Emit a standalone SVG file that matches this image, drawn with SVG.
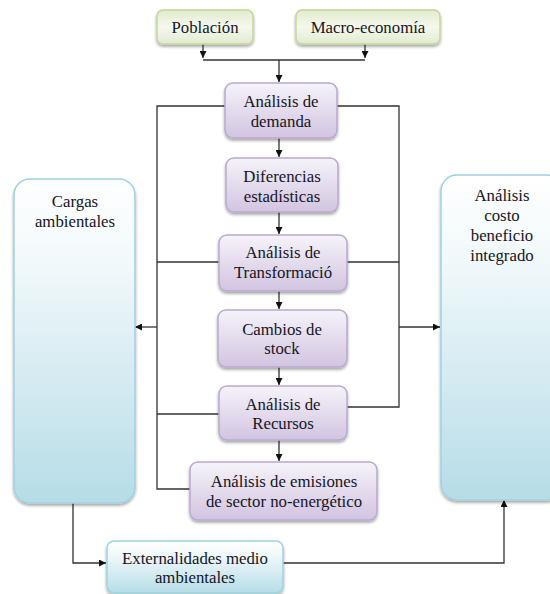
<svg xmlns="http://www.w3.org/2000/svg" width="550" height="594" viewBox="0 0 550 594">
  <defs>
    <linearGradient id="gGreen" x1="0" y1="0" x2="0" y2="1">
      <stop offset="0" stop-color="#e2ebcd"/>
      <stop offset="0.5" stop-color="#f5f8ee"/>
      <stop offset="1" stop-color="#e1ebcf"/>
    </linearGradient>
    <linearGradient id="gPurple" x1="0" y1="0" x2="0" y2="1">
      <stop offset="0" stop-color="#f6f3f9"/>
      <stop offset="1" stop-color="#d2c4e1"/>
    </linearGradient>
    <linearGradient id="gBlue" x1="0" y1="0" x2="0" y2="1">
      <stop offset="0" stop-color="#ffffff"/>
      <stop offset="0.25" stop-color="#f2f9fb"/>
      <stop offset="1" stop-color="#b6dce7"/>
    </linearGradient>
    <filter id="shadow" x="-10%" y="-10%" width="120%" height="130%">
      <feGaussianBlur in="SourceAlpha" stdDeviation="1.5"/>
      <feOffset dx="0" dy="2" result="b"/>
      <feComponentTransfer><feFuncA type="linear" slope="0.35"/></feComponentTransfer>
      <feMerge><feMergeNode/><feMergeNode in="SourceGraphic"/></feMerge>
    </filter>
    <marker id="arrow" viewBox="0 0 10 10" refX="10" refY="5" markerWidth="7" markerHeight="7" markerUnits="userSpaceOnUse" orient="auto">
      <path d="M0,0 L10,5 L0,10 z" fill="#111"/>
    </marker>
  </defs>
  <style>
    .green { fill: url(#gGreen); stroke: #c3d69b; stroke-width: 1.5; filter: url(#shadow); }
    .purple { fill: url(#gPurple); stroke: #b9a9cf; stroke-width: 1.5; filter: url(#shadow); }
    .blue { fill: url(#gBlue); stroke: #9fd2df; stroke-width: 1.5; filter: url(#shadow); }
    .lbl { font-family: "Liberation Serif", "Times New Roman", serif; font-size: 16.8px; fill: #15151f; text-anchor: middle; }
    .wire { fill: none; stroke: #333; stroke-width: 1.3; }
    .arr { marker-end: url(#arrow); }
  </style>

  <!-- connectors -->
  <g id="connectors">
    <path class="wire arr" d="M203,44 V58"/>
    <path class="wire arr" d="M365,44 V58"/>
    <path class="wire" d="M203,60 H365"/>
    <path class="wire arr" d="M279,60 V82"/>
    <path class="wire arr" d="M279,138 V157"/>
    <path class="wire arr" d="M279,212 V234"/>
    <path class="wire arr" d="M279,291 V309"/>
    <path class="wire arr" d="M279,367 V385"/>
    <path class="wire arr" d="M279,440 V461"/>
    <!-- left collector to Cargas ambientales -->
    <path class="wire" d="M225,106 H157 V489 H190"/>
    <path class="wire" d="M219,262 H157"/>
    <path class="wire" d="M219,414 H157"/>
    <path class="wire arr" d="M157,327 H135"/>
    <!-- right collector to costo beneficio -->
    <path class="wire" d="M337,106 H399 V407 H347"/>
    <path class="wire" d="M347,262 H399"/>
    <path class="wire arr" d="M399,327 H440"/>
    <!-- externalities loop -->
    <path class="wire arr" d="M73,503 V563 H106"/>
    <path class="wire arr" d="M283,563 H504 V500"/>
  </g>

  <g id="poblacion">
    <rect class="green" x="157" y="10" width="96" height="34" rx="6"/>
    <text class="lbl" x="205" y="33">Población</text>
  </g>
  <g id="macroeconomia">
    <rect class="green" x="296" y="10" width="144" height="34" rx="6"/>
    <text class="lbl" x="368" y="33">Macro-economía</text>
  </g>
  <g id="demanda">
    <rect class="purple" x="225" y="83" width="112" height="55" rx="8"/>
    <text class="lbl" x="281" y="107">Análisis de</text>
    <text class="lbl" x="281" y="127">demanda</text>
  </g>
  <g id="diferencias">
    <rect class="purple" x="226" y="158" width="112" height="54" rx="8"/>
    <text class="lbl" x="282" y="182">Diferencias</text>
    <text class="lbl" x="282" y="202">estadísticas</text>
  </g>
  <g id="transformacion">
    <rect class="purple" x="219" y="235" width="128" height="56" rx="8"/>
    <text class="lbl" x="283" y="258">Análisis de</text>
    <text class="lbl" x="283" y="278">Transformació</text>
  </g>
  <g id="stock">
    <rect class="purple" x="218" y="310" width="129" height="57" rx="8"/>
    <text class="lbl" x="282" y="335">Cambios de</text>
    <text class="lbl" x="282" y="354">stock</text>
  </g>
  <g id="recursos">
    <rect class="purple" x="219" y="386" width="128" height="54" rx="8"/>
    <text class="lbl" x="283" y="410">Análisis de</text>
    <text class="lbl" x="283" y="429">Recursos</text>
  </g>
  <g id="emisiones">
    <rect class="purple" x="190" y="462" width="187" height="58" rx="8"/>
    <text class="lbl" x="284" y="487">Análisis de emisiones</text>
    <text class="lbl" x="284" y="507">de sector no-energético</text>
  </g>
  <g id="cargas">
    <rect class="blue" x="14" y="179" width="121" height="324" rx="16"/>
    <text class="lbl" x="75" y="207">Cargas</text>
    <text class="lbl" x="75" y="227">ambientales</text>
  </g>
  <g id="costo-beneficio">
    <rect class="blue" x="441" y="175" width="122" height="325" rx="16"/>
    <text class="lbl" x="502" y="201">Análisis</text>
    <text class="lbl" x="502" y="221">costo</text>
    <text class="lbl" x="502" y="241">beneficio</text>
    <text class="lbl" x="502" y="261">integrado</text>
  </g>
  <g id="externalidades">
    <rect class="blue" x="107" y="541" width="176" height="52" rx="7"/>
    <text class="lbl" x="195" y="564">Externalidades medio</text>
    <text class="lbl" x="195" y="583">ambientales</text>
  </g>
</svg>
